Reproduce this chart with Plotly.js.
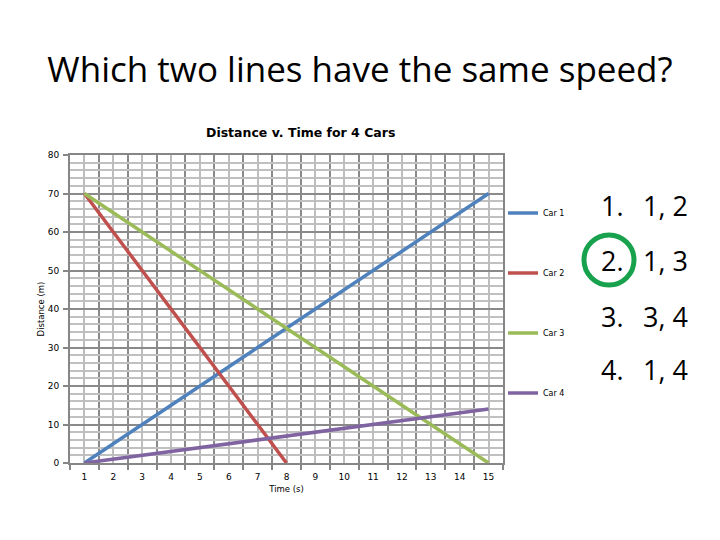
<!DOCTYPE html>
<html>
<head>
<meta charset="utf-8">
<script src="https://cdn.plot.ly/plotly-3.0.1.min.js"></script>
<style>
  html, body { margin: 0; padding: 0; background: #fff; }
  #plot { width: 720px; height: 540px; }
</style>
</head>
<body>
<div id="plot"></div>
<script>
// time in seconds (category axis)
var time = [1, 2, 3, 4, 5, 6, 7, 8, 9, 10, 11, 12, 13, 14, 15];
var car1 = [0, 5, 10, 15, 20, 25, 30, 35, 40, 45, 50, 55, 60, 65, 70];
var car2 = [70, 60, 50, 40, 30, 20, 10, 0];
var car3 = [70, 65, 60, 55, 50, 45, 40, 35, 30, 25, 20, 15, 10, 5, 0];
var car4 = [0, 1, 2, 3, 4, 5, 6, 7, 8, 9, 10, 11, 12, 13, 14];
var carNames = ['Car 1', 'Car 2', 'Car 3', 'Car 4'];
var carColors = ['#4F81BD', '#C0504D', '#9BBB59', '#8064A2'];
var answers = [['1.', '1, 2'], ['2.', '1, 3'], ['3.', '3, 4'], ['4.', '1, 4']];

function drawDia(){
  var PLOT = document.getElementById('plot');
  var series = [car1, car2, car3, car4];
  var legends = ['legend', 'legend2', 'legend3', 'legend4'];
  var data = [];
  for (var i = 0; i < series.length; i++) {
    data.push({
      x: time.slice(0, series[i].length),
      y: series[i],
      name: carNames[i],
      type: 'scatter',
      mode: 'lines',
      legend: legends[i],
      showlegend: true,
      line: {color: carColors[i], width: 3.5}
    });
  }

  var legFont = {family: 'DejaVu Sans', size: 8, color: '#000'};
  function leg(ypx){
    return {
      x: 1.0, xanchor: 'left',
      y: (463 - ypx) / 308, yanchor: 'middle',
      font: legFont, bgcolor: 'rgba(0,0,0,0)',
      itemwidth: 30, borderwidth: 0, visible: true
    };
  }

  var annotations = [
    {text: '<b>Distance v. Time for 4 Cars</b>', xref: 'paper', yref: 'paper',
     x: (300 - 70) / 433, y: (463 - 132) / 308, xanchor: 'center', yanchor: 'middle', showarrow: false,
     font: {family: 'DejaVu Sans', size: 12.5, color: '#000'}}
  ];
  var rowY = [205, 260, 316, 369];
  for (var j = 0; j < answers.length; j++) {
    annotations.push({
      text: answers[j][0], xref: 'paper', yref: 'paper', xanchor: 'left', yanchor: 'middle',
      x: (599 - 70) / 433, y: (463 - rowY[j]) / 308, showarrow: false,
      font: {family: 'Open Sans', size: 27, color: '#000'}
    });
    annotations.push({
      text: answers[j][1], xref: 'paper', yref: 'paper', xanchor: 'left', yanchor: 'middle',
      x: (641 - 70) / 433, y: (463 - rowY[j]) / 308, showarrow: false,
      font: {family: 'Open Sans', size: 27, color: '#000'}
    });
  }

  var tickFont = {family: 'DejaVu Sans', size: 9, color: '#000'};
  var layout = {
    width: 720, height: 540,
    margin: {l: 70, r: 217, t: 155, b: 77},
    paper_bgcolor: '#fff', plot_bgcolor: '#fff',
    showlegend: true,
    title: {
      text: 'Which two lines have the same speed?',
      x: 0.5, xanchor: 'center', y: 1 - 70 / 540, yanchor: 'middle',
      font: {family: 'Open Sans', size: 35, color: '#000'}
    },
    xaxis: {
      range: [0.5, 15.5], tickvals: time, ticks: '', ticklabelstandoff: 4,
      showgrid: true, gridcolor: '#BDBDBD', gridwidth: 1.5,
      zeroline: false, showline: true, linecolor: '#868686', linewidth: 2, mirror: true,
      tickfont: tickFont,
      title: {text: 'Time (s)', standoff: 5, font: {family: 'DejaVu Sans', size: 8.5, color: '#000'}},
      minor: {tick0: 0.5, dtick: 1, showgrid: true, gridcolor: '#8A8A8A', gridwidth: 2,
              ticks: 'outside', ticklen: 5, tickcolor: '#868686', tickwidth: 2}
    },
    yaxis: {
      range: [0, 80], dtick: 10, ticks: 'outside', ticklen: 5, tickcolor: '#868686', tickwidth: 2,
      ticklabelstandoff: 2,
      showgrid: true, gridcolor: '#8A8A8A', gridwidth: 2,
      zeroline: false, showline: true, linecolor: '#868686', linewidth: 2, mirror: true,
      tickfont: tickFont,
      title: {text: 'Distance (m)', standoff: 2, font: {family: 'DejaVu Sans', size: 8.5, color: '#000'}},
      minor: {dtick: 2, showgrid: true, gridcolor: '#C0C0C0', gridwidth: 1.5}
    },
    legend: leg(213), legend2: leg(273), legend3: leg(333), legend4: leg(393),
    annotations: annotations,
    shapes: [
      {type: 'circle', xref: 'paper', yref: 'paper',
       x0: (584 - 70) / 433, x1: (634 - 70) / 433,
       y0: (463 - 285) / 308, y1: (463 - 235) / 308,
       line: {color: '#19A24D', width: 5}}
    ]
  };

  Plotly.newPlot(PLOT, data, layout, {displaylogo: false, displayModeBar: false});
}
drawDia();
</script>
</body>
</html>
